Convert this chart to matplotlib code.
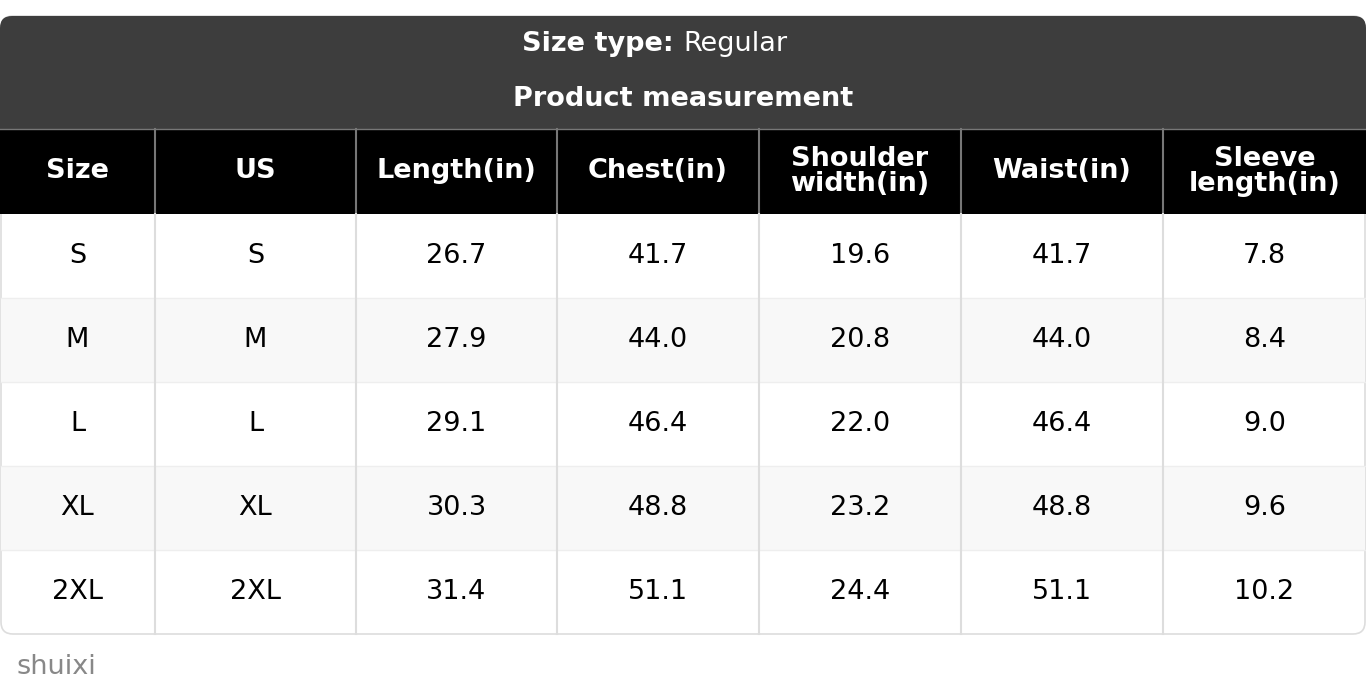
import matplotlib
matplotlib.use("Agg")
import matplotlib.pyplot as plt
from matplotlib.patches import FancyBboxPatch, Rectangle

columns = ["Size", "US", "Length(in)", "Chest(in)", "Shoulder\nwidth(in)", "Waist(in)", "Sleeve\nlength(in)"]
sizes = ["S", "M", "L", "XL", "2XL"]
us = ["S", "M", "L", "XL", "2XL"]
length = ["26.7", "27.9", "29.1", "30.3", "31.4"]
chest = ["41.7", "44.0", "46.4", "48.8", "51.1"]
shoulder = ["19.6", "20.8", "22.0", "23.2", "24.4"]
waist = ["41.7", "44.0", "46.4", "48.8", "51.1"]
sleeve = ["7.8", "8.4", "9.0", "9.6", "10.2"]

W, H = 1366, 700
fig = plt.figure(figsize=(W/100, H/100), dpi=100)
ax = fig.add_axes([0, 0, 1, 1])
ax.set_xlim(0, W); ax.set_ylim(H, 0); ax.axis("off")

xs = [0, 155, 356, 557, 759, 961, 1163, 1366]
top, hdr, body0, rh = 16, 129, 214, 84
nrows = len(sizes)
bottom = body0 + rh*nrows
fs = 19.5

# outer rounded shape (light border)
ax.add_patch(FancyBboxPatch((1, top), W-2, bottom-top, boxstyle="round,pad=0,rounding_size=12",
                            fc="white", ec="#dddddd", lw=1.2, zorder=1))
ax.add_patch(FancyBboxPatch((0, top), W, 60, boxstyle="round,pad=0,rounding_size=12",
                            fc="#3d3d3d", ec="none", zorder=2))
ax.add_patch(Rectangle((0, top+30), W, hdr-top-30, fc="#3d3d3d", ec="none", zorder=2))
ax.add_patch(Rectangle((0, hdr), W, body0-hdr, fc="black", ec="none", zorder=2))
for i in range(nrows):
    if i % 2 == 1:
        ax.add_patch(Rectangle((1, body0+i*rh), W-2, rh, fc="#f8f8f8", ec="none", zorder=2))
    if i > 0:
        ax.plot([1, W-1], [body0+i*rh]*2, color="#eeeeee", lw=1, zorder=3)
for x in xs[1:-1]:
    ax.plot([x, x], [hdr, body0], color="#777777", lw=1.5, zorder=3)
    ax.plot([x, x], [body0, bottom], color="#dddddd", lw=1.5, zorder=3)
ax.plot([0, W], [hdr, hdr], color="#777777", lw=1, zorder=3)

ax.text(W/2, 44, "Size type: ", ha="right", va="center", fontsize=fs, color="white", fontweight="bold", zorder=5)
ax.text(W/2, 44, "Regular", ha="left", va="center", fontsize=fs, color="white", zorder=5)
ax.text(W/2, 99, "Product measurement", ha="center", va="center", fontsize=fs, color="white", fontweight="bold", zorder=5)
for j, c in enumerate(columns):
    ax.text((xs[j]+xs[j+1])/2, (hdr+body0)/2, c, ha="center", va="center", fontsize=fs,
            color="white", fontweight="bold", linespacing=0.95, zorder=5)
data = [sizes, us, length, chest, shoulder, waist, sleeve]
for j, col in enumerate(data):
    for i, v in enumerate(col):
        ax.text((xs[j]+xs[j+1])/2, body0+i*rh+rh/2, v, ha="center", va="center",
                fontsize=fs, color="black", zorder=5)
ax.text(16, 667, "shuixi", ha="left", va="center", fontsize=fs, color="#888888")
fig.savefig("out.png", dpi=100)
